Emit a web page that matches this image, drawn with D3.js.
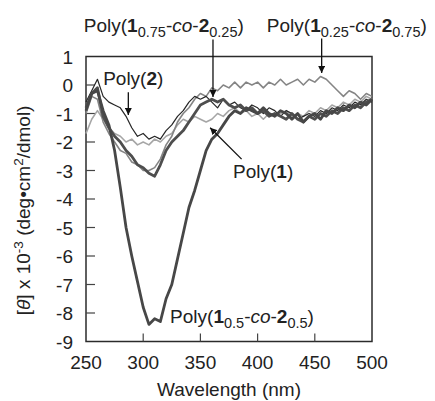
<!DOCTYPE html>
<html>
<head>
<meta charset="utf-8">
<script src="https://cdn.jsdelivr.net/npm/d3@7"></script>
<style>
  html, body { margin: 0; padding: 0; background: #fff; }
  svg { display: block; font-family: "Liberation Sans", Arial, sans-serif; }
</style>
</head>
<body>
<div id="chart"></div>
<script>
// wavelengths (nm)
const wavelengths = [250, 255, 260, 265, 270, 275, 280, 285, 290, 295, 300, 305, 310, 315, 320, 325, 330, 335, 340, 345,
  350, 355, 360, 365, 370, 375, 380, 385, 390, 395, 400, 405, 410, 415, 420, 425, 430, 435, 440, 445,
  450, 455, 460, 465, 470, 475, 480, 485, 490, 495, 500];

// [theta] x 10^-3
const poly2 = [-0.6, -0.2, 0.2, -0.4, -0.6, -0.7, -0.8, -1.1, -1.5, -1.8, -1.7, -1.9, -1.8, -1.9, -1.6, -1.4, -1.1, -0.9, -0.6, -0.4,
  -0.5, -0.4, -0.6, -0.8, -0.5, -0.7, -0.6, -0.8, -0.9, -0.7, -0.8, -1.0, -0.8, -0.9, -1.1, -0.9, -1.0, -1.2, -1.1, -1.0,
  -1.1, -0.9, -1.0, -0.8, -0.9, -0.7, -0.8, -0.6, -0.7, -0.5, -0.6];
const poly1 = [-1.7, -1.2, -0.9, -1.2, -1.5, -1.7, -1.8, -2.0, -1.9, -2.1, -2.0, -2.1, -1.9, -2.0, -1.8, -1.7, -1.4, -1.2, -1.3, -1.1,
  -1.2, -1.3, -1.2, -1.0, -1.1, -0.9, -0.8, -1.0, -0.9, -1.1, -1.0, -1.2, -1.0, -1.1, -1.0, -0.9, -1.1, -1.0, -1.1, -0.9,
  -1.0, -0.8, -0.9, -0.7, -0.8, -0.6, -0.7, -0.5, -0.6, -0.4, -0.5];
const poly1_075 = [-0.8, -0.3, -0.1, -1.1, -1.5, -1.8, -2.0, -2.3, -2.5, -2.8, -2.9, -3.1, -3.2, -2.8, -2.3, -2.0, -1.8, -1.6, -1.3, -1.0,
  -0.7, -0.6, -0.5, -0.6, -0.5, -0.7, -0.8, -0.7, -0.9, -0.8, -1.0, -0.9, -1.1, -1.0, -1.1, -1.2, -1.0, -1.2, -1.3, -1.1,
  -1.2, -1.0, -1.1, -0.9, -1.0, -0.8, -0.9, -0.7, -0.8, -0.6, -0.5];
const poly1_025 = [-1.0, -0.4, -0.5, -1.3, -1.7, -2.0, -2.3, -2.4, -2.7, -2.8, -3.0, -3.0, -2.9, -2.6, -2.1, -1.8, -1.3, -1.0, -0.8, -0.5,
  -0.3, -0.4, -0.1, -0.2, 0.0, -0.1, 0.1, -0.1, 0.1, 0.0, 0.1, -0.1, 0.1, 0.0, 0.2, 0.0, 0.1, 0.2, 0.0, 0.2,
  0.1, 0.3, 0.2, 0.0, -0.2, -0.4, -0.2, -0.3, -0.5, -0.3, -0.4];
const poly1_05 = [-0.9, -0.3, -0.2, -0.9, -1.4, -2.3, -3.6, -5.0, -6.0, -6.9, -7.8, -8.4, -8.2, -8.3, -7.5, -7.0, -6.1, -5.2, -4.3, -3.7,
  -3.0, -2.3, -1.9, -1.7, -1.4, -1.1, -0.9, -1.0, -0.8, -0.9, -1.0, -0.8, -1.0, -1.1, -0.9, -1.0, -1.2, -1.0, -1.3, -1.1,
  -1.0, -1.2, -0.9, -1.0, -0.8, -0.9, -0.7, -0.8, -0.6, -0.7, -0.5];

const xTicks = [250, 300, 350, 400, 450, 500];
const yTicks = [1, 0, -1, -2, -3, -4, -5, -6, -7, -8, -9];

const series = [
  { values: poly1, color: "#a6a6a6", width: 1.6 },
  { values: poly1_025, color: "#858585", width: 1.6 },
  { values: poly2, color: "#262626", width: 1.2 },
  { values: poly1_075, color: "#4e4e4e", width: 2.8 },
  { values: poly1_05, color: "#474747", width: 2.8 },
];

// labels: rich text parts, anchor in data coords, arrow from/to in data coords
const labels = [
  { parts: [["Poly("], ["2", "b"], [")"]], at: [265, 0.0], anchor: "start", arrow: [[287, -0.25], [287, -1.05]] },
  { parts: [["Poly("], ["1", "b"], ["0.75", "sub"], ["-"], ["co", "i"], ["-"], ["2", "b"], ["0.25", "sub"], [")"]],
    at: [318, 1.86], anchor: "middle", arrow: [[361, 1.6], [361, -0.42]] },
  { parts: [["Poly("], ["1", "b"], ["0.25", "sub"], ["-"], ["co", "i"], ["-"], ["2", "b"], ["0.75", "sub"], [")"]],
    at: [478, 1.86], anchor: "middle", arrow: [[456, 1.63], [456, 0.42]] },
  { parts: [["Poly("], ["1", "b"], [")"]], at: [378.5, -3.25], anchor: "start", arrow: [[386, -2.6], [358.5, -1.5]] },
  { parts: [["Poly("], ["1", "b"], ["0.5", "sub"], ["-"], ["co", "i"], ["-"], ["2", "b"], ["0.5", "sub"], [")"]],
    at: [323.5, -8.35], anchor: "start", arrow: null },
];

const W = 435, H = 401;
const margin = { left: 86, right: 63, top: 56.5, bottom: 59.5 };
const fs = 19;

const svg = d3.select("#chart").append("svg").attr("width", W).attr("height", H);

const x = d3.scaleLinear().domain([250, 500]).range([margin.left, W - margin.right]);
const y = d3.scaleLinear().domain([-9, 1]).range([H - margin.bottom, margin.top]);

// frame
svg.append("rect")
  .attr("x", x(250)).attr("y", y(1))
  .attr("width", x(500) - x(250)).attr("height", y(-9) - y(1))
  .attr("fill", "none").attr("stroke", "#2b2b2b").attr("stroke-width", 1.5);

// ticks (inward)
svg.append("g").selectAll("line").data(xTicks.slice(1, -1)).join("line")
  .attr("x1", d => x(d)).attr("x2", d => x(d))
  .attr("y1", y(-9)).attr("y2", y(-9) - 8)
  .attr("stroke", "#444").attr("stroke-width", 1.2);
svg.append("g").selectAll("line").data(yTicks.slice(1, -1)).join("line")
  .attr("x1", x(250)).attr("x2", x(250) + 9)
  .attr("y1", d => y(d)).attr("y2", d => y(d))
  .attr("stroke", "#444").attr("stroke-width", 1.2);

svg.append("g").selectAll("text").data(xTicks).join("text")
  .attr("x", d => x(d)).attr("y", y(-9) + 27)
  .attr("text-anchor", "middle").attr("font-size", fs).attr("fill", "#222")
  .text(d => d);
svg.append("g").selectAll("text").data(yTicks).join("text")
  .attr("x", x(250) - 13).attr("y", d => y(d) + 7)
  .attr("text-anchor", "end").attr("font-size", fs).attr("fill", "#222")
  .text(d => d);

// curves
const line = d3.line().x((d, i) => x(wavelengths[i])).y(d => y(d)).curve(d3.curveLinear);
svg.append("g").selectAll("path").data(series).join("path")
  .attr("d", d => line(d.values))
  .attr("fill", "none")
  .attr("stroke", d => d.color)
  .attr("stroke-width", d => d.width)
  .attr("stroke-linejoin", "round");

// annotations
function richText(g, parts, px, py, anchor) {
  const t = g.append("text").attr("x", px).attr("y", py)
    .attr("text-anchor", anchor).attr("font-size", fs).attr("fill", "#222");
  let shift = 0;
  parts.forEach(([s, style]) => {
    const ts = t.append("tspan").text(s);
    const target = style === "sub" ? 5 : 0;
    if (target !== shift) { ts.attr("dy", target - shift); shift = target; }
    if (style === "sub") ts.attr("font-size", 14.5);
    if (style === "b") ts.attr("font-weight", "bold");
    if (style === "i") ts.attr("font-style", "italic");
  });
  return t;
}

svg.append("defs").append("marker")
  .attr("id", "head").attr("viewBox", "0 0 10 10")
  .attr("refX", 10).attr("refY", 5)
  .attr("markerWidth", 7).attr("markerHeight", 7)
  .attr("markerUnits", "userSpaceOnUse")
  .attr("orient", "auto")
  .append("path").attr("d", "M0,0 L10,5 L0,10 Z").attr("fill", "#111");

const ann = svg.append("g");
labels.forEach(l => {
  richText(ann, l.parts, x(l.at[0]), y(l.at[1]), l.anchor);
  if (l.arrow) {
    ann.append("line")
      .attr("x1", x(l.arrow[0][0])).attr("y1", y(l.arrow[0][1]))
      .attr("x2", x(l.arrow[1][0])).attr("y2", y(l.arrow[1][1]))
      .attr("stroke", "#111").attr("stroke-width", 1.3)
      .attr("marker-end", "url(#head)");
  }
});

// axis titles
svg.append("text")
  .attr("x", (x(250) + x(500)) / 2).attr("y", 396)
  .attr("text-anchor", "middle").attr("font-size", fs).attr("fill", "#222")
  .text("Wavelength (nm)");

const yl = svg.append("text")
  .attr("transform", `translate(30,${y(-4.4)}) rotate(-90)`)
  .attr("text-anchor", "middle").attr("font-size", fs).attr("fill", "#222");
yl.append("tspan").text("[");
yl.append("tspan").attr("font-style", "italic").text("θ");
yl.append("tspan").text("] x 10");
yl.append("tspan").attr("font-size", 13.5).attr("dy", -7).text("-3");
yl.append("tspan").attr("dy", 7).text(" (deg•cm");
yl.append("tspan").attr("font-size", 13.5).attr("dy", -7).text("2");
yl.append("tspan").attr("dy", 7).text("/dmol)");
</script>
</body>
</html>
